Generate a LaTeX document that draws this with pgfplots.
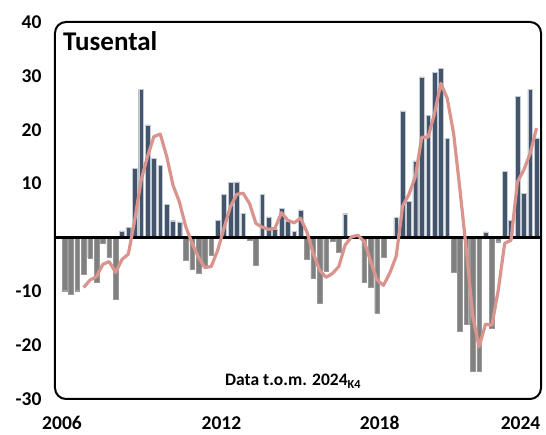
\documentclass[border=0pt]{standalone}
\usepackage{fontspec}
\setmainfont{Carlito}
\usepackage{pgfplots}
\pgfplotsset{compat=1.18}

\definecolor{poscol}{HTML}{44546A}
\definecolor{posedge}{HTML}{C2CBD6}
\definecolor{negcol}{HTML}{808080}
\definecolor{linecol}{HTML}{D9948D}

\begin{document}
\begin{tikzpicture}
\begin{axis}[
  name=ax,
  width=486pt, height=377pt, scale only axis,
  xmin=-1.5, xmax=74.7, ymin=-30, ymax=40,
  axis line style={draw=none},
  xtick={-0.4,24.6,49.4,71.5}, xticklabels={2006,2012,2018,2024},
  ytick={-30,-20,-10,10,20,30,40}, yticklabels={-30,-20,-10,10,20,30,40},
  major tick length=0pt,
  ticklabel style={font=\fontsize{19.5}{22}\selectfont\bfseries},
  xticklabel style={yshift=-14pt},
  yticklabel style={xshift=-10pt},
  clip=false,
]

% quarterly change, positive quarters
\addplot[ybar, bar width=0.74, bar shift=0pt, fill=poscol, draw=posedge, line width=0.4pt]
  coordinates {
  (9,1.2) (10,1.9) (11,12.8) (12,27.5) (13,20.9) (14,14.7) (15,13.4) (16,6.1)
  (17,3.1) (18,2.9) (24,3.2) (25,8.0) (26,10.2) (27,10.3) (28,4.5) (31,8.0)
  (32,3.8) (33,1.6) (34,5.4) (35,3.0) (36,1.1) (37,5.1) (44,4.4) (45,0.2)
  (51,0.1) (52,3.7) (53,23.5) (54,6.7) (55,14.2) (56,29.8) (57,22.7) (58,30.7)
  (59,31.4) (60,18.4) (66,1.05) (69,12.3) (70,3.2) (71,26.2) (72,8.2) (73,27.5)
  (74,18.5)
  };

% quarterly change, negative quarters
\addplot[ybar, bar width=0.74, bar shift=0pt, fill=negcol, draw=negcol!80!white, line width=0.4pt]
  coordinates {
  (0,-9.9) (1,-10.6) (2,-9.9) (3,-6.9) (4,-3.8) (5,-8.4) (6,-1.0) (7,-3.7)
  (8,-11.4) (19,-4.3) (20,-5.9) (21,-6.6) (22,-5.4) (23,-3.3) (29,-0.5) (30,-5.1)
  (38,-4.0) (39,-7.5) (40,-12.3) (41,-6.2) (42,-0.7) (43,-2.8) (46,-0.2) (47,-8.4)
  (48,-9.3) (49,-14.0) (50,-3.7) (61,-6.4) (62,-17.5) (63,-16.1) (64,-24.9) (65,-24.9)
  (67,-16.9) (68,-0.8)
  };

\draw[line width=2.2pt] (axis cs:-1.5,0) -- (axis cs:74.7,0);

% moving average
\addplot[sharp plot, no marks, color=linecol, line width=3.2pt, line join=round]
  coordinates {
  (3,-9.3) (4,-7.9) (5,-7.3) (6,-5.0) (7,-4.5) (8,-6.5) (9,-4.1) (10,-3.1)
  (11,3.2) (12,10.6) (13,15.0) (14,18.7) (15,19.2) (16,15.1) (17,9.7) (18,6.6)
  (19,2.0) (20,-1.1) (21,-3.7) (22,-5.6) (23,-5.4) (24,-2.4) (25,1.7) (26,5.7)
  (27,8.0) (28,8.2) (29,6.3) (30,2.6) (31,1.9) (32,1.5) (33,1.7) (34,4.6)
  (35,3.2) (36,2.7) (37,3.6) (38,1.0) (39,-3.0) (40,-6.1) (41,-7.4) (42,-6.7)
  (43,-5.4) (44,-1.4) (45,0.1) (46,0.4) (47,-0.8) (48,-4.5) (49,-7.9) (50,-8.9)
  (51,-6.6) (52,-3.5) (53,5.8) (54,8.0) (55,11.3) (56,18.6) (57,18.6) (58,23.0)
  (59,28.6) (60,25.8) (61,19.3) (62,8.8) (63,-2.4) (64,-14.7) (65,-20.3) (66,-16.1)
  (67,-16.3) (68,-9.8) (69,-1.1) (70,-0.5) (71,10.3) (72,12.5) (73,15.6) (74,20.3)
  };

\draw[line width=2pt, rounded corners=11pt] (rel axis cs:0,0) rectangle (rel axis cs:1,1);

\node[anchor=base west, inner sep=0pt, xshift=8pt, yshift=-29pt,
  font=\fontsize{27}{30}\selectfont\bfseries] at (rel axis cs:0,1) {Tusental};
\node[anchor=base, inner sep=0pt, yshift=13pt,
  font=\fontsize{17.5}{20}\selectfont\bfseries] at (rel axis cs:0.49,0)
  {Data t.o.m. 2024\textsubscript{K4}};

\end{axis}
\pgfresetboundingbox
\path ([shift={(-55pt,-36pt)}]ax.south west) rectangle ([shift={(5pt,22pt)}]ax.north east);
\end{tikzpicture}
\end{document}
